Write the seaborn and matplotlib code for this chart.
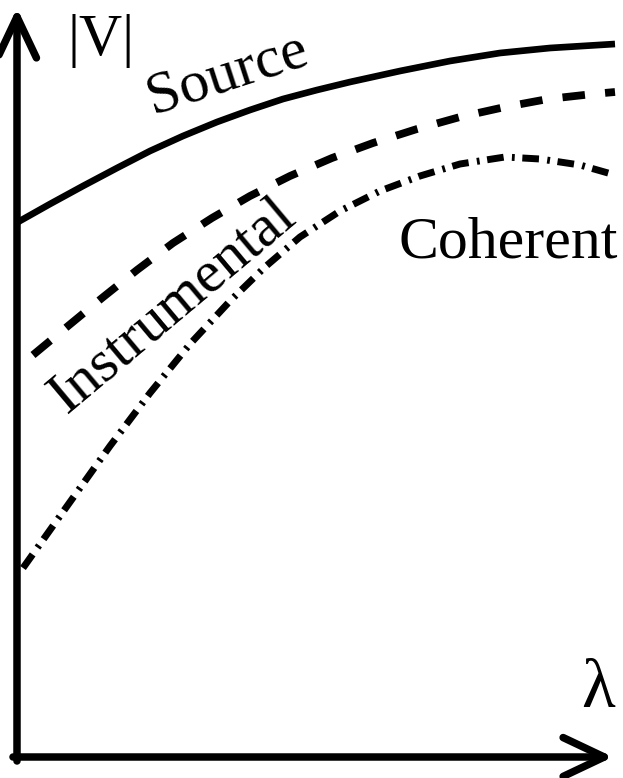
"""
Visibility vs wavelength sketch: source, instrumental and coherent curves.
Coordinates are read off the reference image (pixel space, y pointing down).
"""
import pandas as pd
import matplotlib
matplotlib.use("Agg")
import matplotlib.pyplot as plt
import seaborn as sns

sns.set_style("white")
plt.rcParams["font.family"] = ["Liberation Serif", "DejaVu Serif"]

# ----------------------------------------------------------------
# DATA (picture coordinates)
# ----------------------------------------------------------------
source_x = [18, 50, 83, 117, 150, 183, 217, 250, 283, 317, 350, 400, 450, 500, 550, 615]
source_y = [222, 204, 186, 168, 151, 136, 122, 110, 99, 90, 82, 71, 61, 53, 48, 44]

instr_x = [33, 68, 102, 137, 173, 212, 250, 290, 332, 373, 417, 460, 505, 548, 593, 615]
instr_y = [355, 326, 298, 270, 243, 218, 196, 176, 158, 143, 129, 117, 107, 99, 94, 92]

coher_x = [23, 60, 110, 150, 190, 230, 265, 300, 340, 380, 420, 460, 505, 540, 580, 615]
coher_y = [568, 516, 446, 393, 344, 301, 267, 237, 211, 191, 176, 164, 157, 159, 165, 175]

labels = ["Source", "Instrumental", "Coherent"]

# ----------------------------------------------------------------
# PLOT
# ----------------------------------------------------------------
fig = plt.figure(figsize=(6.23, 7.78), dpi=100)
ax = fig.add_axes([0, 0, 1, 1])
ax.set_xlim(0, 623)
ax.set_ylim(778, 0)
ax.axis("off")

src = pd.DataFrame({"x": source_x, "y": source_y})
ins = pd.DataFrame({"x": instr_x, "y": instr_y})
coh = pd.DataFrame({"x": coher_x, "y": coher_y})

sns.lineplot(data=src, x="x", y="y", sort=False, color="black", lw=4.8, ax=ax)
sns.lineplot(data=ins, x="x", y="y", sort=False, color="black", lw=5.6,
             linestyle=(0, (2.9, 2.6)), ax=ax)
sns.lineplot(data=coh, x="x", y="y", sort=False, color="black", lw=5.0,
             linestyle=(0, (2.4, 1.2, 0.4, 1.1)), ax=ax)
for ln in ax.lines:
    ln.set_solid_capstyle("butt")
    ln.set_dash_capstyle("butt")
    ln.set_solid_joinstyle("round")

# axes with open arrowheads
arrow = dict(arrowstyle="->,head_length=1.48,head_width=0.7", lw=5.4,
             color="black", mutation_scale=20, shrinkA=0, shrinkB=0)
ax.annotate("", xy=(17, 8), xytext=(17, 761), arrowprops=arrow)
ax.annotate("", xy=(613, 757), xytext=(13, 757), arrowprops=arrow)

fs = 43
ax.text(101, 55, "|V|", fontsize=fs, ha="center", va="baseline", color="black")
ax.text(598, 707, "λ", fontsize=50, ha="center", va="baseline", color="black")
ax.text(232, 88, labels[0], fontsize=fs, ha="center", va="baseline",
        rotation=18, rotation_mode="anchor", color="black")
ax.text(182, 316, labels[1], fontsize=fs, ha="center", va="baseline",
        rotation=40, rotation_mode="anchor", color="black")
ax.text(508, 258, labels[2], fontsize=fs, ha="center", va="baseline", color="black")

fig.savefig("out.png", dpi=100)
plt.close(fig)
